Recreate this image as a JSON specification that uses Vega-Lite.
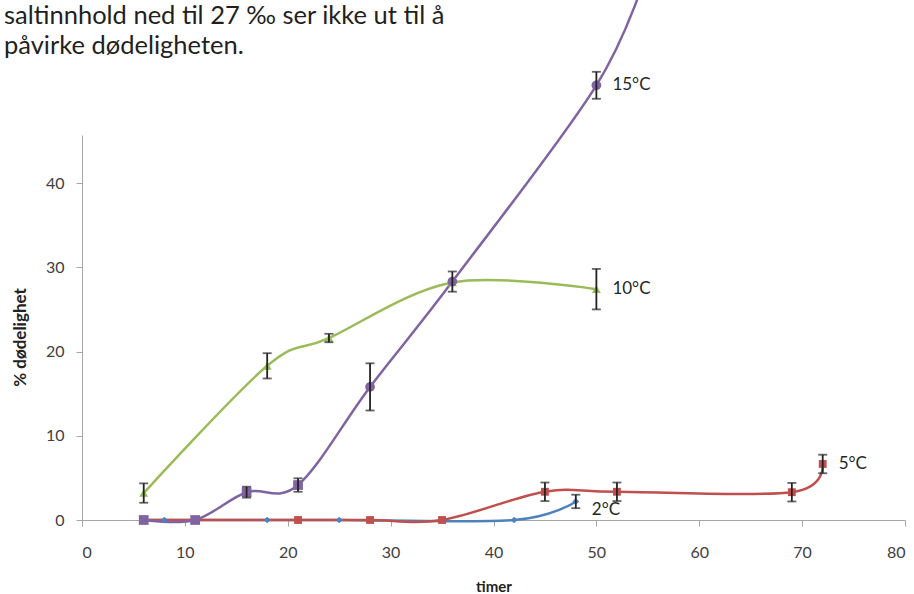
{
  "$schema": "https://vega.github.io/schema/vega-lite/v6.json",
  "width": 823,
  "height": 385,
  "autosize": {"type": "none"},
  "padding": {"left": 82, "top": 135, "right": 9, "bottom": 74},
  "background": "white",
  "title": {
    "text": ["saltinnhold ned til 27 ‰ ser ikke ut til å", "påvirke dødeligheten."],
    "anchor": "start",
    "frame": "group",
    "dx": -78,
    "offset": -96,
    "fontSize": 25.5,
    "font": "Lato",
    "fontWeight": "normal",
    "color": "#231f20",
    "lineHeight": 30
  },
  "config": {"view": {"stroke": null}, "font": "Lato"},
  "data": {
    "values": [
      {"serie": "2°C", "t": 6, "y": 0},
      {"serie": "2°C", "t": 8, "y": 0},
      {"serie": "2°C", "t": 18, "y": 0},
      {"serie": "2°C", "t": 25, "y": 0},
      {"serie": "2°C", "t": 42, "y": 0},
      {"serie": "2°C", "t": 48, "y": 2.2, "err": 0.8},
      {"serie": "5°C", "t": 6, "y": 0},
      {"serie": "5°C", "t": 11, "y": 0},
      {"serie": "5°C", "t": 21, "y": 0},
      {"serie": "5°C", "t": 28, "y": 0},
      {"serie": "5°C", "t": 35, "y": 0},
      {"serie": "5°C", "t": 45, "y": 3.35, "err": 1.1},
      {"serie": "5°C", "t": 52, "y": 3.35, "err": 1.1},
      {"serie": "5°C", "t": 69, "y": 3.3, "err": 1.1},
      {"serie": "5°C", "t": 72, "y": 6.65, "err": 1.1},
      {"serie": "10°C", "t": 6, "y": 3.2, "err": 1.15},
      {"serie": "10°C", "t": 18, "y": 18.3, "err": 1.5},
      {"serie": "10°C", "t": 24, "y": 21.6, "err": 0.5},
      {"serie": "10°C", "t": 36, "y": 28.2},
      {"serie": "10°C", "t": 50, "y": 27.4, "err": 2.4},
      {"serie": "15°C", "t": 6, "y": 0},
      {"serie": "15°C", "t": 11, "y": 0},
      {"serie": "15°C", "t": 16, "y": 3.3, "err": 0.65},
      {"serie": "15°C", "t": 21, "y": 4.15, "err": 0.8},
      {"serie": "15°C", "t": 28, "y": 15.8, "err": 2.8},
      {"serie": "15°C", "t": 36, "y": 28.3, "err": 1.2},
      {"serie": "15°C", "t": 50, "y": 51.6, "err": 1.6},
      {"serie": "15°C", "t": 55, "y": 65.5}
    ]
  },
  "encoding": {
    "x": {
      "field": "t",
      "type": "quantitative",
      "scale": {"domain": [0, 80], "nice": false},
      "axis": {
        "title": "timer",
        "values": [0, 10, 20, 30, 40, 50, 60, 70, 80],
        "grid": false,
        "domainColor": "#a6a6a6",
        "tickColor": "#a6a6a6",
        "tickSize": 6,
        "labelFontSize": 16,
        "labelColor": "#404040",
        "labelPadding": 18,
        "titleFontSize": 15,
        "titleFontWeight": "bold",
        "titleColor": "#222222",
        "titleBaseline": "alphabetic",
        "titleY": 71
      }
    },
    "y": {
      "field": "y",
      "type": "quantitative",
      "scale": {"domain": [0, 45.7], "nice": false},
      "axis": {
        "title": "% dødelighet",
        "values": [0, 10, 20, 30, 40],
        "grid": false,
        "domainColor": "#a6a6a6",
        "tickColor": "#a6a6a6",
        "tickSize": 6,
        "labelFontSize": 16,
        "labelColor": "#404040",
        "labelPadding": 12,
        "titleFontSize": 17,
        "titleFontWeight": "bold",
        "titleColor": "#222222",
        "titleX": -62,
        "titleY": 202,
        "titleAlign": "center",
        "titleBaseline": "middle"
      }
    },
    "color": {
      "field": "serie",
      "type": "nominal",
      "scale": {"domain": ["2°C", "5°C", "10°C", "15°C"], "range": ["#4F81BD", "#C0504D", "#9BBB59", "#8064A2"]},
      "legend": null
    }
  },
  "layer": [
    {
      "mark": {"type": "line", "interpolate": "cardinal", "tension": 0, "strokeWidth": 2.5}
    },
    {
      "transform": [{"filter": "datum.y <= 55"}],
      "mark": {"type": "point", "filled": true, "opacity": 1},
      "encoding": {
        "shape": {
          "condition": {"test": "datum.serie === '15°C' && datum.y >= 10", "value": "circle"},
          "field": "serie",
          "type": "nominal",
          "scale": {"domain": ["2°C", "5°C", "10°C", "15°C"], "range": ["diamond", "square", "triangle-up", "square"]},
          "legend": null
        },
        "size": {
          "field": "serie",
          "type": "nominal",
          "scale": {"domain": ["2°C", "5°C", "10°C", "15°C"], "range": [45, 95, 75, 85]},
          "legend": null
        }
      }
    },
    {
      "transform": [{"filter": "isValid(datum.err)"}],
      "mark": {"type": "errorbar", "ticks": true, "size": 9, "thickness": 1.8, "color": "#222222"},
      "encoding": {
        "y": {"field": "y", "type": "quantitative"},
        "yError": {"field": "err"},
        "color": {"value": "#222222"}
      }
    },
    {
      "transform": [{"filter": "(datum.serie === '15°C' && datum.t === 50) || (datum.serie === '10°C' && datum.t === 50) || (datum.serie === '5°C' && datum.t === 72)"}],
      "mark": {"type": "text", "align": "left", "baseline": "middle", "dx": 16, "fontSize": 17, "font": "Lato"},
      "encoding": {"text": {"field": "serie"}, "color": {"value": "#262626"}}
    },
    {
      "transform": [{"filter": "datum.serie === '2°C' && datum.t === 48"}],
      "mark": {"type": "text", "align": "left", "baseline": "middle", "dx": 16, "dy": 9, "fontSize": 17, "font": "Lato"},
      "encoding": {"text": {"field": "serie"}, "color": {"value": "#262626"}}
    }
  ]
}
